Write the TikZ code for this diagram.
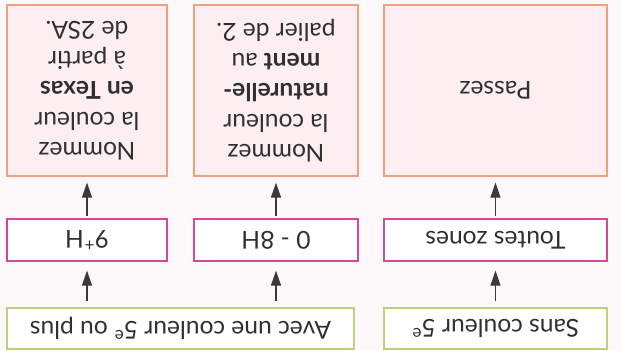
\documentclass[tikz,border=0pt]{standalone}
\usepackage{fontspec}
\setmainfont{Lato}
\usetikzlibrary{arrows.meta}
\usepackage{xcolor}
\definecolor{fondrose}{HTML}{FDF8F9}
\definecolor{boiterose}{HTML}{FCEEF1}
\definecolor{bordorange}{HTML}{F0A07E}
\definecolor{bordmagenta}{HTML}{D4489A}
\definecolor{bordvert}{HTML}{BFD07C}
\definecolor{fleche}{HTML}{3A3A3A}
\definecolor{texte}{HTML}{303030}

\begin{document}
\begin{tikzpicture}[rotate=180,transform shape,
    font=\fontsize{17.5}{21.5}\selectfont, text=texte,
    depart/.style={draw=bordvert,line width=0.9pt,fill=white,minimum height=1.025cm,inner sep=0pt},
    points/.style={draw=bordmagenta,line width=0.9pt,fill=white,minimum height=1.05cm,inner sep=0pt},
    reponse/.style={draw=bordorange,line width=0.9pt,fill=boiterose,minimum height=4.275cm,inner sep=0pt,align=center},
    fl/.style={draw=fleche,line width=0.9pt,-{Triangle[length=3.75mm,width=2.5mm]}}]
            \useasboundingbox[fill=fondrose] (0,0) rectangle (15.525,8.775); % fond
            % ligne du haut
            \node[depart,minimum width=5.575cm] (sanscoul) at (3.1375,8.2125) {Sans couleur 5\textsuperscript{e}};
            \node[depart,minimum width=8.675cm] (aveccoul) at (11.0125,8.2125) {Avec une couleur 5\textsuperscript{e} ou plus};
            % points H
            \node[points,minimum width=5.575cm] (toutes) at (3.1375,6.0) {Toutes zones};
            \node[points,minimum width=4.1cm] (basH) at (8.625,6.0) {0 - 8H};
            \node[points,minimum width=4.0cm] (hautH) at (13.35,6.0) {9\textsuperscript{+}H};
            % reponses
            \node[reponse,minimum width=5.575cm] (passez) at (3.1375,2.2625) {Passez};
            \node[reponse,minimum width=4.1cm] (natur) at (8.625,2.2625) {Nommez\\la couleur\\\textbf{naturelle-}\\\textbf{ment} au\\palier de 2.};
            \node[reponse,minimum width=4.0cm] (texas) at (13.35,2.2625) {Nommez\\la couleur\\\textbf{en Texas}\\à partir\\de 2SA.};
            % fleches
            \draw[fl,shorten <=1.5mm,shorten >=2.25mm] (sanscoul.south -| toutes) -- (toutes.north);
            \draw[fl,shorten <=1.5mm,shorten >=2.25mm] (aveccoul.south -| basH) -- (basH.north);
            \draw[fl,shorten <=1.5mm,shorten >=2.25mm] (aveccoul.south -| hautH) -- (hautH.north);
            \draw[fl,shorten <=0.5mm,shorten >=1.5mm] (toutes) -- (passez);
            \draw[fl,shorten <=0.5mm,shorten >=1.5mm] (basH) -- (natur);
            \draw[fl,shorten <=0.5mm,shorten >=1.5mm] (hautH) -- (texas);
\end{tikzpicture}
\end{document}
